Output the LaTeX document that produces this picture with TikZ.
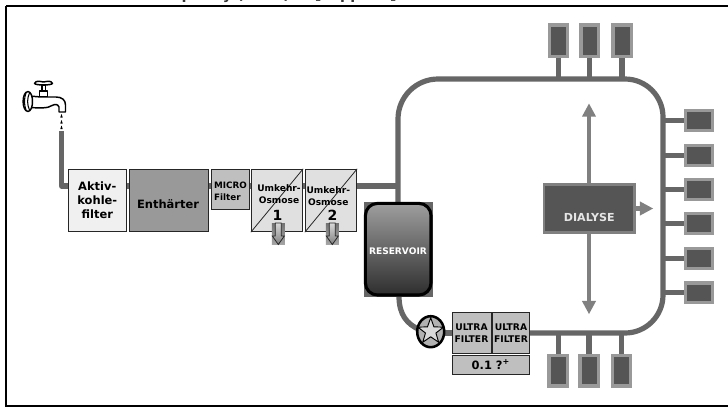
\documentclass[tikz,border=0pt]{standalone}
\usepackage{fontspec}
\setmainfont{DejaVu Sans}
\usetikzlibrary{shapes.geometric,arrows.meta}
\definecolor{pipe}{HTML}{666666}
\definecolor{portfill}{HTML}{555555}
\definecolor{portedge}{HTML}{999999}
\definecolor{arrowgray}{HTML}{808080}
\tikzset{
  pipeline/.style={draw=pipe,line width=3.9pt},
  box/.style={draw=black!85,line width=0.7pt,inner sep=0pt,align=center,font=\bfseries},
  port/.style={draw=portedge,fill=portfill,line width=2.4pt,inner sep=0pt},
  bigarrow/.style={draw=arrowgray,line width=3.4pt,-{Triangle[width=9.8pt,length=10pt]}},
  fsA/.style={font=\fontsize{8.6}{10.6}\selectfont\bfseries},
  fsC/.style={font=\fontsize{6.6}{8.6}\selectfont\bfseries},
  fsU/.style={font=\fontsize{6.8}{9.2}\selectfont\bfseries,align=center},
  fsF/.style={font=\fontsize{6.9}{9}\selectfont\bfseries,align=center},
  fsN/.style={font=\fontsize{10.5}{11}\selectfont\bfseries},
  faucet/.style={draw=black,line width=1.1pt,fill=white,line join=round},
}
\newcommand{\boxat}[6]{% name, style, x0,y0,x1,y1
  \node[box,#2,minimum width={(#5-#3)*0.75pt},minimum height={(#6-#4)*0.75pt}] (#1) at ({(#3+#5)/2},{(#4+#6)/2}) {};}
\begin{document}
\begin{tikzpicture}[x=0.75pt,y=-0.75pt]
\useasboundingbox (0,0) rectangle (728,408);
\begin{scope}
\clip (0,0) rectangle (728,408);
\fill[white] (0,0) rectangle (728,408);
\draw[black,line width=1.5pt] (6,5.5) -- (732,5.5);
\draw[black,line width=1.5pt] (6,5.5) -- (6,405.5) -- (732,405.5);
\node[font=\fontsize{10.7}{12}\selectfont\bfseries,text=black!80,anchor=base west,inner sep=0pt] (cap) at (164,-0.6) {r quality (1998) in [supplied] of};

% pipes
\coordinate (src) at (61.5,131);
\draw[pipeline,line join=round] (src) -- (61.5,186) -- (130,186);
\draw[pipeline] (208,186) -- (400,186);
\draw[pipeline] (398,202) -- (398,119) arc[start angle=180,end angle=270,radius=40] -- (625,79) arc[start angle=270,end angle=360,radius=38] -- (663,295) arc[start angle=0,end angle=90,radius=38] -- (529,333);
\draw[pipeline] (399,296) .. controls (399,315) and (407,324) .. (420,330);
\draw[pipeline] (444,333) -- (453,333);

% top ports
\foreach \n/\a/\b in {t1/547.7/569,t2/579.3/600.3,t3/611.3/632.7}{
  \draw[pipeline] ({(\a+\b)/2},79) -- ({(\a+\b)/2},57);
  \node[port,minimum width={(\b-\a-3.2)*0.75pt},minimum height={(34.4-3.2)*0.75pt}] (\n) at ({(\a+\b)/2},40.5) {};
}
% bottom ports
\foreach \n/\a/\b in {b1/547.3/569,b2/578.3/599.7,b3/610.7/632}{
  \draw[pipeline] ({(\a+\b)/2},333) -- ({(\a+\b)/2},355);
  \node[port,minimum width={(\b-\a-3.2)*0.75pt},minimum height={(33.7-3.2)*0.75pt}] (\n) at ({(\a+\b)/2},370.8) {};
}
% right ports
\foreach \n/\c in {r1/120.3,r2/155.2,r3/189.5,r4/223.5,r5/258.2,r6/292.8}{
  \draw[pipeline] (663,\c) -- (685,\c);
  \node[port,minimum width={(30.3-3.2)*0.75pt},minimum height={(23-3.2)*0.75pt}] (\n) at (698.8,\c) {};
}

% dialyse
\node[draw=arrowgray,fill=portfill,line width=2pt,inner sep=0pt,minimum width={90.7*0.75pt},minimum height={47.7*0.75pt}] (dia) at (589.3,208.5) {};
\node[text=white!90!black,font=\fontsize{8.3}{9}\selectfont\bfseries] (dialab) at (589.3,217) {DIALYSE};
\coordinate (up) at (589,103.3);
\coordinate (dn) at (589,314.3);
\coordinate (rt) at (653.3,208.5);
\draw[bigarrow] (dia.north -| up) -- (up);
\draw[bigarrow] (dia.south -| dn) -- (dn);
\draw[bigarrow] (dia.east) -- (rt);

% treatment boxes
\boxat{aktiv}{fill=black!6}{68.3}{169.3}{126.3}{231.7}
\boxat{enth}{fill=black!40}{129.3}{169.3}{208.3}{231.7}
\boxat{micro}{fill=black!25}{211.3}{169.3}{249.7}{209.7}
\boxat{uo1}{fill=black!12}{251.3}{169.3}{302.7}{231.7}
\boxat{uo2}{fill=black!12}{305.3}{169.3}{356.7}{231.7}
\draw[black!85,line width=0.6pt] (uo1.south west) -- (uo1.north east);
\draw[black!85,line width=0.6pt] (uo2.south west) -- (uo2.north east);
\node[fsA,align=center] (aktivt) at (aktiv.center) {Aktiv-\\kohle-\\filter};
\node[fsA] (entht) at (168,204) {Enthärter};
\node[fsC,align=left] (microt) at (230.5,191.5) {MICRO\\Filter};
\node[fsU] (uo1t) at (279,194) {Umkehr-\\Osmose};
\node[fsU] (uo2t) at (328.3,196) {Umkehr-\\Osmose};
\node[fsN] (n1) at (277.5,215) {1};
\node[fsN] (n2) at (332.5,215) {2};
% drain arrows
\foreach \n/\c in {d1/278.3,d2/332.3}{
  \coordinate (\n) at (\c,223);
  \shade[top color=black!55,bottom color=black!35] (\c-6.5,223) rectangle (\c+6.5,244.5);
  \draw[black!85,top color=black!15,bottom color=black!50,line width=0.6pt] (\c-3,223) -- (\c+3,223) -- (\c+3,236) -- (\c+6,236) -- (\c,244.5) -- (\c-6,236) -- (\c-3,236) -- cycle;
}

% reservoir
\fill[pipe] (363.7,201.7) rectangle (432.7,296.7);
\shade[top color=black!38,bottom color=black!82,rounded corners=9pt,draw=black,line width=2.3pt] (365.4,203.4) rectangle (431,295);
\node[text=white,font=\fontsize{6.8}{8}\selectfont\bfseries] (res) at (398,251.5) {RESERVOIR};

% pump
\node[ellipse,draw=black,fill=black!30,line width=1.9pt,minimum width={27*0.75pt},minimum height={31*0.75pt},inner sep=0pt] (pump) at (430.7,331.7) {};
\node[star,star points=5,star point ratio=2.45,draw=black,fill=white!85!black,line width=0.7pt,minimum size={27*0.75pt},inner sep=0pt] (pstar) at (430.7,331.3) {};

% ultra filters
\boxat{uf1}{fill=black!25}{452}{312.7}{491}{353.7}
\boxat{uf2}{fill=black!25}{492.3}{312.7}{529.7}{353.7}
\boxat{uf3}{fill=black!25}{452}{355}{529.7}{374.3}
\node[fsF] (uf1t) at (471.5,333.5) {ULTRA\\FILTER};
\node[fsF] (uf2t) at (511,333.5) {ULTRA\\FILTER};
\node[font=\fontsize{8.6}{9}\selectfont\bfseries] (uf3t) at (uf3.center) {0.1 ?\textsuperscript{+}};

% faucet
\draw[faucet] (34.5,83.5) .. controls (36,80) and (40,81.5) .. (43.5,82) .. controls (47,81.5) and (51,80) .. (52.5,83.5) .. controls (51,85.5) and (36,85.5) .. (34.5,83.5) -- cycle;
\draw[faucet] (42,85) rectangle (45.5,91);
\draw[faucet] (39.5,91) rectangle (47.5,97);
\draw[faucet] (29,96) -- (41,97) -- (56,97) .. controls (62,97) and (65.5,100) .. (65.5,105) -- (65.5,112) -- (59,112) -- (59,107) .. controls (58,104) and (55,104) .. (52,105.5) .. controls (48,108.5) and (40,108) .. (29,107.5) -- cycle;
\draw[faucet] (28,91.5) .. controls (21.5,92) and (21.5,111) .. (28,111.5) .. controls (34,111) and (34,92) .. (28,91.5) -- cycle;
\draw[black,line width=0.8pt] (26,93) .. controls (24,98) and (24,105) .. (26,110);
\draw[black,line width=0.8pt] (29.5,93) .. controls (27,98) and (27,105) .. (29.5,110);
\foreach \y/\h in {114/3.5,120/3.5,125.5/3.5}{
  \fill[black] (61.5,\y) -- ++(1.2,\h) -- ++(-2.4,0) -- cycle;
}
\end{scope}
\end{tikzpicture}
\end{document}
